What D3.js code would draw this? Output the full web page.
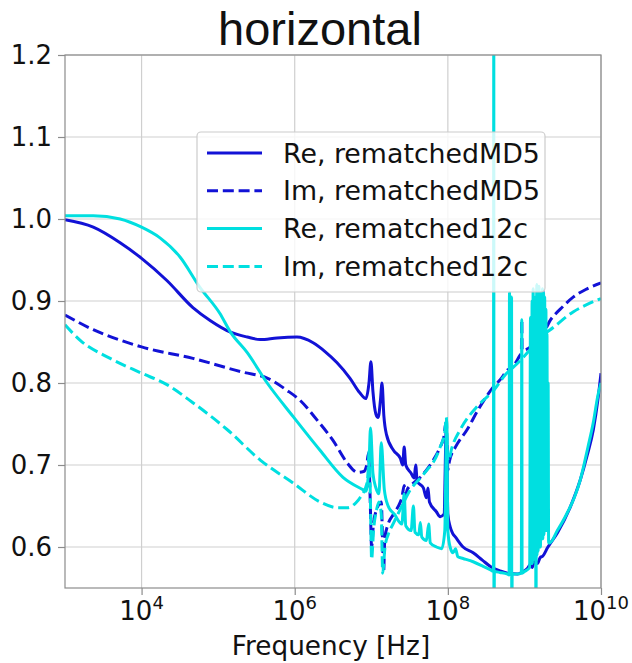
<!DOCTYPE html>
<html>
<head>
<meta charset="utf-8">
<script src="https://cdn.jsdelivr.net/npm/d3@7"></script>
<style>
  html, body { margin: 0; padding: 0; background: #fff; }
  svg { display: block; }
  text { font-family: "DejaVu Sans", sans-serif; fill: #111; }
</style>
</head>
<body>
<div id="chart"></div>
<script>
// Frequency response of the horizontal component: Re / Im for two matchings.
// Each series is a list of [frequency in Hz, value].

const reMD5 = [
  [1.0e3, 0.999], [2.34e3, 0.990], [5.25e3, 0.971], [1.0e4, 0.952], [2.14e4, 0.925],
  [4.68e4, 0.892], [7.94e4, 0.876], [1.45e5, 0.862], [2.40e5, 0.856], [3.55e5, 0.853],
  [5.89e5, 0.855], [1.07e6, 0.856], [1.74e6, 0.849], [2.51e6, 0.838], [3.55e6, 0.825],
  [5.25e6, 0.806], [7.08e6, 0.788], [8.51e6, 0.781], [9.33e6, 0.800], [9.89e6, 0.826],
  [1.05e7, 0.790], [1.15e7, 0.762], [1.23e7, 0.758], [1.32e7, 0.780], [1.38e7, 0.800],
  [1.46e7, 0.760], [1.58e7, 0.737], [1.95e7, 0.718], [2.40e7, 0.708], [2.57e7, 0.700],
  [2.69e7, 0.722], [2.82e7, 0.700], [3.31e7, 0.690], [3.63e7, 0.684], [3.80e7, 0.700],
  [3.98e7, 0.680], [4.79e7, 0.672], [5.25e7, 0.660], [5.50e7, 0.672], [5.75e7, 0.655],
  [7.08e7, 0.643], [7.94e7, 0.637], [8.91e7, 0.640], [9.55e7, 0.745], [1.0e8, 0.640],
  [1.07e8, 0.625], [1.15e8, 0.617], [1.26e8, 0.612], [1.58e8, 0.600], [2.14e8, 0.593],
  [2.82e8, 0.584], [3.63e8, 0.576], [4.79e8, 0.571], [6.03e8, 0.568], [8.13e8, 0.567],
  [9.55e8, 0.570], [1.10e9, 0.574], [1.20e9, 0.579], [1.26e9, 0.575], [1.35e9, 0.582],
  [1.48e9, 0.580], [1.60e9, 0.587], [1.74e9, 0.589], [2.00e9, 0.599], [2.69e9, 0.617],
  [3.98e9, 0.649], [5.37e9, 0.682], [6.61e9, 0.712], [7.94e9, 0.743], [9.12e9, 0.780],
  [1.0e10, 0.812]
];

const imMD5 = [
  [1.0e3, 0.883], [2.34e3, 0.865], [5.01e3, 0.853], [1.0e4, 0.844], [4.68e4, 0.830],
  [2.14e5, 0.813], [4.37e5, 0.806], [7.94e5, 0.791], [1.17e6, 0.779], [1.95e6, 0.755],
  [3.16e6, 0.730], [4.90e6, 0.702], [6.61e6, 0.691], [7.94e6, 0.692], [8.71e6, 0.700],
  [9.23e6, 0.715], [9.66e6, 0.660], [1.01e7, 0.600], [1.07e7, 0.630], [1.17e7, 0.645],
  [1.35e7, 0.655], [1.41e7, 0.600], [1.45e7, 0.570], [1.50e7, 0.610], [1.66e7, 0.628],
  [1.95e7, 0.640], [2.40e7, 0.655], [2.51e7, 0.660], [2.69e7, 0.675], [2.82e7, 0.664],
  [2.95e7, 0.670], [3.55e7, 0.678], [4.37e7, 0.685], [5.37e7, 0.695], [6.46e7, 0.706],
  [7.94e7, 0.722], [8.91e7, 0.735], [9.44e7, 0.752], [9.77e7, 0.720], [1.0e8, 0.694],
  [1.05e8, 0.705], [1.26e8, 0.722], [1.78e8, 0.743], [2.51e8, 0.768], [3.63e8, 0.791],
  [5.01e8, 0.806], [6.03e8, 0.816], [6.46e8, 0.818], [6.56e8, 0.852], [6.66e8, 0.820],
  [8.51e8, 0.832], [9.12e8, 0.838], [9.23e8, 0.877], [9.33e8, 0.840], [1.20e9, 0.844],
  [1.58e9, 0.858], [1.70e9, 0.862], [1.74e9, 0.913], [1.78e9, 0.864], [2.19e9, 0.877],
  [3.16e9, 0.893], [4.37e9, 0.905], [6.31e9, 0.914], [1.0e10, 0.922]
];

const re12c = [
  [1.0e3, 1.004], [2.34e3, 1.004], [5.25e3, 1.000], [1.0e4, 0.990], [1.74e4, 0.977],
  [3.16e4, 0.954], [5.75e4, 0.917], [1.05e5, 0.885], [1.45e5, 0.862], [2.40e5, 0.837],
  [4.37e5, 0.800], [9.55e5, 0.759], [2.14e6, 0.718], [4.27e6, 0.685], [7.76e6, 0.670],
  [8.51e6, 0.668], [9.33e6, 0.700], [9.77e6, 0.745], [1.05e7, 0.690], [1.15e7, 0.672],
  [1.26e7, 0.665], [1.35e7, 0.727], [1.48e7, 0.670], [1.66e7, 0.650], [2.00e7, 0.640],
  [2.51e7, 0.628], [2.69e7, 0.665], [2.82e7, 0.626], [3.31e7, 0.620], [3.55e7, 0.650],
  [3.72e7, 0.618], [4.17e7, 0.615], [4.37e7, 0.630], [4.57e7, 0.612], [5.25e7, 0.608],
  [5.62e7, 0.628], [5.89e7, 0.605], [7.08e7, 0.600], [8.32e7, 0.598], [9.12e7, 0.620],
  [9.66e7, 0.755], [1.0e8, 0.620], [1.07e8, 0.600], [1.17e8, 0.593], [1.26e8, 0.598],
  [1.35e8, 0.588], [1.58e8, 0.586], [2.14e8, 0.582], [2.82e8, 0.577], [3.63e8, 0.572],
  [3.94e8, 0.570], [3.98e8, 1.350], [4.00e8, 0.400], [4.05e8, 0.570], [4.79e8, 0.569],
  [6.03e8, 0.567], [6.31e8, 0.566], [6.38e8, 0.910], [6.43e8, 0.567], [6.76e8, 0.566],
  [6.79e8, 0.905], [6.84e8, 0.450], [6.92e8, 0.567], [8.13e8, 0.567], [9.12e8, 0.568],
  [9.23e8, 0.877], [9.33e8, 0.568], [1.0e9, 0.570], [1.17e9, 0.575], [1.20e9, 0.880],
  [1.23e9, 0.580], [1.26e9, 0.900], [1.27e9, 0.580], [1.30e9, 0.915], [1.32e9, 0.590],
  [1.35e9, 0.890], [1.36e9, 0.585], [1.40e9, 0.905], [1.41e9, 0.450], [1.45e9, 0.920],
  [1.46e9, 0.590], [1.50e9, 0.910], [1.51e9, 0.595], [1.55e9, 0.918], [1.57e9, 0.600],
  [1.60e9, 0.910], [1.62e9, 0.600], [1.66e9, 0.900], [1.68e9, 0.610], [1.72e9, 0.915],
  [1.74e9, 0.610], [1.78e9, 0.910], [1.80e9, 0.615], [1.84e9, 0.905], [1.86e9, 0.620],
  [1.91e9, 0.890], [1.93e9, 0.620], [1.97e9, 0.860], [2.00e9, 0.620], [2.04e9, 0.800],
  [2.07e9, 0.605], [2.14e9, 0.605], [2.69e9, 0.620], [3.55e9, 0.640], [4.47e9, 0.660],
  [5.37e9, 0.682], [6.76e9, 0.722], [7.94e9, 0.752], [9.12e9, 0.785], [1.0e10, 0.800]
];

const im12c = [
  [1.0e3, 0.871], [1.58e3, 0.852], [3.89e3, 0.830], [1.0e4, 0.812], [2.14e4, 0.798],
  [4.68e4, 0.776], [1.32e5, 0.743], [3.55e5, 0.706], [9.55e5, 0.678], [2.14e6, 0.655],
  [3.63e6, 0.648], [4.90e6, 0.648], [6.31e6, 0.654], [7.24e6, 0.661], [8.91e6, 0.680],
  [9.44e6, 0.720], [9.77e6, 0.650], [1.01e7, 0.585], [1.07e7, 0.620], [1.17e7, 0.645],
  [1.26e7, 0.655], [1.35e7, 0.640], [1.41e7, 0.568], [1.51e7, 0.600], [1.66e7, 0.615],
  [1.95e7, 0.629], [2.51e7, 0.650], [3.24e7, 0.670], [4.17e7, 0.682], [5.37e7, 0.694],
  [6.61e7, 0.705], [7.94e7, 0.722], [9.12e7, 0.740], [9.55e7, 0.758], [9.89e7, 0.710],
  [1.02e8, 0.705], [1.12e8, 0.720], [1.45e8, 0.743], [2.51e8, 0.773], [3.98e8, 0.791],
  [5.62e8, 0.810], [8.13e8, 0.824], [1.12e9, 0.838], [1.48e9, 0.852], [2.40e9, 0.868],
  [4.37e9, 0.887], [6.31e9, 0.895], [1.0e10, 0.903]
];

const seriesLabels = ["Re, rematchedMD5", "Im, rematchedMD5", "Re, rematched12c", "Im, rematched12c"];
const yTicks = [0.6, 0.7, 0.8, 0.9, 1.0, 1.1, 1.2];
const xTickExponents = [4, 6, 8, 10];
const chartTitle = "horizontal";
const xAxisLabel = "Frequency [Hz]";

const BLUE = "#1212d6";
const CYAN = "#00dfe0";
const series = [
  { name: seriesLabels[0], data: reMD5, color: BLUE, dashed: false },
  { name: seriesLabels[1], data: imMD5, color: BLUE, dashed: true },
  { name: seriesLabels[2], data: re12c, color: CYAN, dashed: false },
  { name: seriesLabels[3], data: im12c, color: CYAN, dashed: true }
];

const W = 632, H = 663;
const plot = { left: 65, right: 601, top: 55, bottom: 588 };
const LW = 3;
const DASH = "11,4.8";

const x = d3.scaleLog().domain([1e3, 1e10]).range([plot.left, plot.right]);
const y = d3.scaleLinear().domain([0.55, 1.2]).range([plot.bottom, plot.top]);

const svg = d3.select("#chart").append("svg")
  .attr("width", W).attr("height", H);

svg.append("defs").append("clipPath").attr("id", "plot-clip")
  .append("rect")
  .attr("x", plot.left).attr("y", plot.top)
  .attr("width", plot.right - plot.left).attr("height", plot.bottom - plot.top);

// grid
const grid = svg.append("g").attr("stroke", "#cfcfcf").attr("stroke-width", 1.2);
grid.selectAll("line.gx").data(xTickExponents.map(e => Math.pow(10, e)))
  .join("line")
  .attr("x1", d => x(d)).attr("x2", d => x(d))
  .attr("y1", plot.top).attr("y2", plot.bottom);
grid.selectAll("line.gy").data(yTicks)
  .join("line")
  .attr("x1", plot.left).attr("x2", plot.right)
  .attr("y1", d => y(d)).attr("y2", d => y(d));

// series
const line = d3.line()
  .x(d => x(d[0]))
  .y(d => y(d[1]))
  .curve(d3.curveMonotoneX);

const lines = svg.append("g").attr("clip-path", "url(#plot-clip)");
series.forEach(s => {
  lines.append("path")
    .datum(s.data)
    .attr("d", line)
    .attr("fill", "none")
    .attr("stroke", s.color)
    .attr("stroke-width", LW)
    .attr("stroke-linejoin", "round")
    .attr("stroke-dasharray", s.dashed ? DASH : null);
});

// axes
const yAxis = d3.axisLeft(y).tickValues(yTicks).tickSize(7).tickPadding(6)
  .tickFormat(d3.format(".1f"));
const gy = svg.append("g").attr("transform", `translate(${plot.left},0)`).call(yAxis);
gy.select(".domain").remove();
gy.selectAll(".tick line").attr("stroke", "#8c8c8c").attr("stroke-width", 1.2);
gy.selectAll(".tick text")
  .attr("font-family", "DejaVu Sans").attr("font-size", 26).attr("fill", "#111");

const xAxis = d3.axisBottom(x).tickValues(xTickExponents.map(e => Math.pow(10, e)))
  .tickSize(7).tickFormat("");
const gx = svg.append("g").attr("transform", `translate(0,${plot.bottom})`).call(xAxis);
gx.select(".domain").remove();
gx.selectAll(".tick line").attr("stroke", "#8c8c8c").attr("stroke-width", 1.2);

const xLabels = svg.append("g");
xTickExponents.forEach(e => {
  const t = xLabels.append("text")
    .attr("x", x(Math.pow(10, e)))
    .attr("y", 620)
    .attr("text-anchor", "middle")
    .attr("font-size", 26);
  t.append("tspan").text("10");
  t.append("tspan").attr("font-size", 18).attr("dy", -11).text(String(e));
});

// frame
svg.append("rect")
  .attr("x", plot.left).attr("y", plot.top)
  .attr("width", plot.right - plot.left).attr("height", plot.bottom - plot.top)
  .attr("fill", "none").attr("stroke", "#8c8c8c").attr("stroke-width", 1.2);

// title and axis label
svg.append("text")
  .attr("x", 320).attr("y", 45)
  .attr("text-anchor", "middle")
  .style("font-family", "'Liberation Sans', Arial, sans-serif")
  .attr("font-size", 47)
  .text(chartTitle);

svg.append("text")
  .attr("x", 331).attr("y", 655)
  .attr("text-anchor", "middle")
  .attr("font-size", 26.3)
  .text(xAxisLabel);

// legend
const legend = svg.append("g");
legend.append("rect")
  .attr("x", 197).attr("y", 132).attr("width", 348).attr("height", 160)
  .attr("rx", 4).attr("ry", 4)
  .attr("fill", "#fff").attr("fill-opacity", 0.8)
  .attr("stroke", "#cccccc").attr("stroke-width", 1.2);
series.forEach((s, i) => {
  const cy = 153 + i * 37.8;
  legend.append("line")
    .attr("x1", 207).attr("x2", 262).attr("y1", cy).attr("y2", cy)
    .attr("stroke", s.color).attr("stroke-width", LW)
    .attr("stroke-dasharray", s.dashed ? DASH : null);
  legend.append("text")
    .attr("x", 283).attr("y", cy + 9.5)
    .attr("font-size", 26.8)
    .text(s.name);
});
</script>
</body>
</html>
